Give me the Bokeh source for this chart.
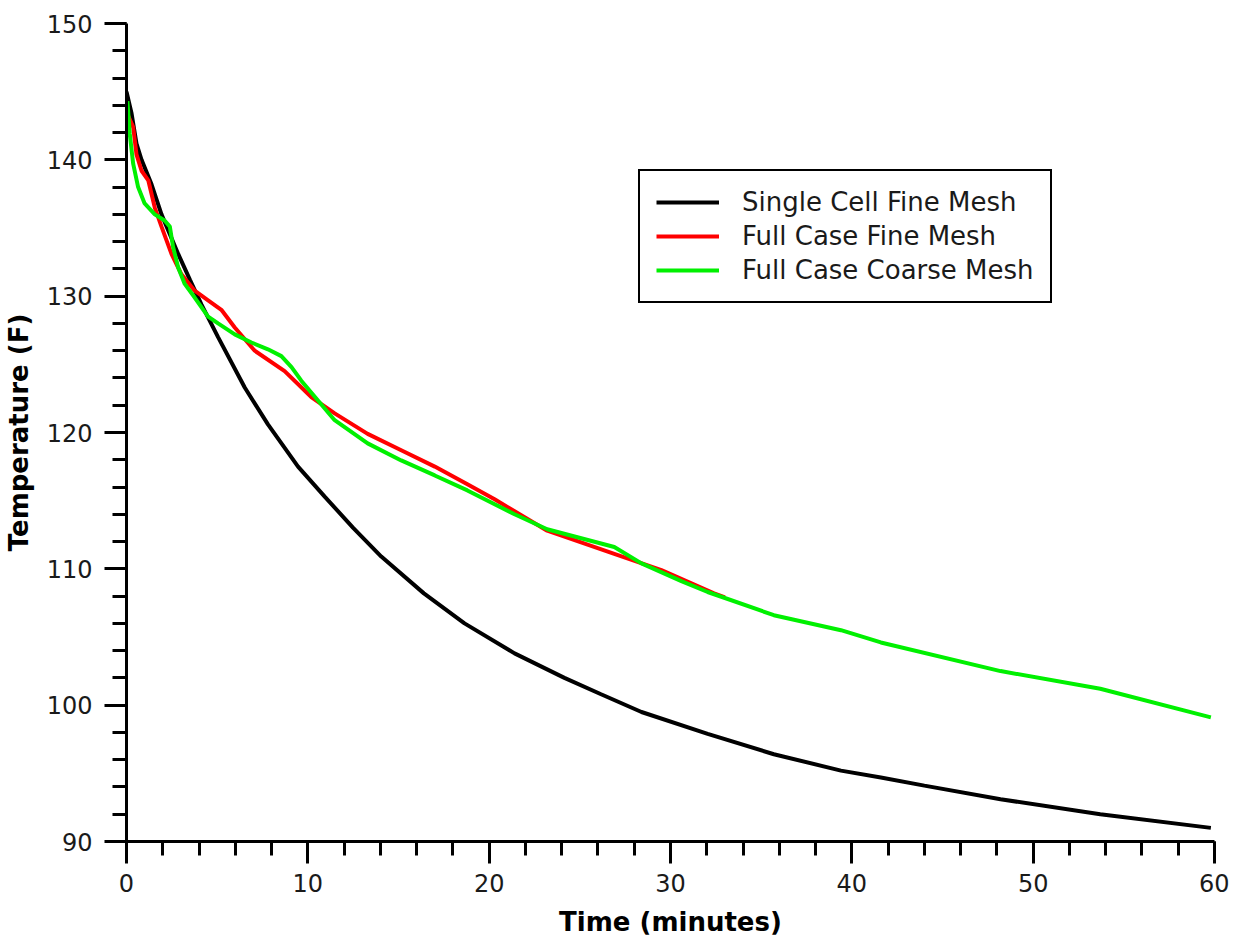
from bokeh.plotting import figure
from bokeh.models import Range1d, SingleIntervalTicker, Legend, LegendItem
from bokeh.embed import file_html
from bokeh.resources import INLINE

# Single Cell Fine Mesh
t_single = [0, 0.28, 0.55, 0.83, 1.38, 1.93, 2.85, 3.5, 4.13, 5.05, 6.52, 7.8, 9.46,
            10.93, 12.5, 14.05, 16.4, 18.64, 21.4, 24.15, 26.17, 28.4, 32.05, 35.7, 39.4,
            41.6, 44.0, 48.2, 53.7, 59.8]
T_single = [145.0, 143.4, 141.2, 140.0, 138.2, 136.0, 133.1, 131.2, 129.4, 127.0, 123.3,
            120.6, 117.5, 115.3, 113.0, 110.9, 108.2, 106.0, 103.8, 102.0, 100.8, 99.5,
            97.9, 96.4, 95.2, 94.7, 94.1, 93.1, 92.0, 91.0]

# Full Case Fine Mesh
t_full_fine = [0, 0.37, 0.55, 0.83, 1.2, 1.56, 1.93, 2.48, 3.03, 3.76, 4.5, 5.23, 5.97,
               7.07, 8.72, 10.19, 11.48, 13.3, 15.15, 17.0, 18.8, 20.3, 23.2, 26.9,
               29.5, 32.4, 33.0]
T_full_fine = [143.5, 142.4, 140.4, 139.2, 138.5, 136.5, 135.1, 133.1, 131.6, 130.4, 129.7,
               129.0, 127.7, 126.0, 124.5, 122.6, 121.4, 119.9, 118.7, 117.5, 116.2, 115.1,
               112.8, 111.1, 109.9, 108.2, 107.9]

# Full Case Coarse Mesh
t_full_coarse = [0.05, 0.18, 0.37, 0.64, 1.0, 1.56, 2.1, 2.39, 2.57, 2.85, 3.21, 3.76, 4.5,
                 5.05, 5.97, 6.89, 7.8, 8.54, 9.1, 9.64, 10.56, 11.48, 13.3, 15.15, 17.0,
                 18.8, 21.4, 23.2, 26.9, 28.4, 30.6, 32.05, 35.7, 39.4, 41.6, 48.2, 53.7,
                 59.8]
T_full_coarse = [144.3, 141.9, 139.7, 138.0, 136.8, 136.0, 135.55, 135.1, 133.6, 132.1,
                 130.9, 129.9, 128.5, 128.0, 127.2, 126.6, 126.1, 125.6, 124.8, 123.8,
                 122.35, 120.9, 119.2, 117.95, 116.85, 115.75, 114.0, 112.9, 111.6, 110.4,
                 109.1, 108.3, 106.6, 105.5, 104.6, 102.5, 101.2, 99.1]

series_names = ["Single Cell Fine Mesh", "Full Case Fine Mesh", "Full Case Coarse Mesh"]
series_colors = ["#000000", "#ff0000", "#00f000"]

FONT = "DejaVu Sans"

p = figure(width=1229, height=943, x_range=Range1d(0, 60), y_range=Range1d(90, 150),
           output_backend="svg", toolbar_location=None,
           min_border_left=125, min_border_right=15, min_border_top=23, min_border_bottom=102)
p.outline_line_color = None
p.xgrid.visible = False
p.ygrid.visible = False
p.background_fill_color = "white"
p.border_fill_color = "white"

r_single = p.line(t_single, T_single, line_color=series_colors[0], line_width=4)
r_fine = p.line(t_full_fine, T_full_fine, line_color=series_colors[1], line_width=4)
r_coarse = p.line(t_full_coarse, T_full_coarse, line_color=series_colors[2], line_width=4)

for ax in (p.xaxis[0], p.yaxis[0]):
    ax.ticker = SingleIntervalTicker(interval=10, num_minor_ticks=5)
    ax.axis_line_width = 3
    ax.axis_line_color = "black"
    ax.major_tick_line_width = 3
    ax.minor_tick_line_width = 3
    ax.major_tick_line_color = "black"
    ax.minor_tick_line_color = "black"
    ax.major_tick_in = 0
    ax.minor_tick_in = 0
    ax.major_tick_out = 22
    ax.minor_tick_out = 14
    ax.major_label_text_font = FONT
    ax.major_label_text_font_size = "24px"
    ax.major_label_text_color = "#1a1a1a"
    ax.axis_label_text_font = FONT
    ax.axis_label_text_font_style = "bold"
    ax.axis_label_text_font_size = "26px"
    ax.axis_label_text_color = "black"

p.xaxis.axis_label = "Time (minutes)"
p.yaxis.axis_label = "Temperature (F)"
p.xaxis.major_label_standoff = 10
p.xaxis.axis_label_standoff = 12
p.yaxis.major_label_standoff = 12
p.yaxis.axis_label_standoff = 10

legend = Legend(items=[LegendItem(label=series_names[0], renderers=[r_single]),
                       LegendItem(label=series_names[1], renderers=[r_fine]),
                       LegendItem(label=series_names[2], renderers=[r_coarse])],
                location=(512, 538))
legend.border_line_color = "black"
legend.border_line_alpha = 1.0
legend.border_line_width = 2
legend.padding = 16
legend.spacing = 4
legend.margin = 0
legend.glyph_width = 63
legend.glyph_height = 30
legend.label_height = 30
legend.label_standoff = 23
legend.label_text_font = FONT
legend.label_text_font_size = "26px"
legend.label_text_color = "#1a1a1a"
legend.background_fill_alpha = 1.0
p.add_layout(legend)

open("out.html", "w").write(file_html(p, INLINE))
